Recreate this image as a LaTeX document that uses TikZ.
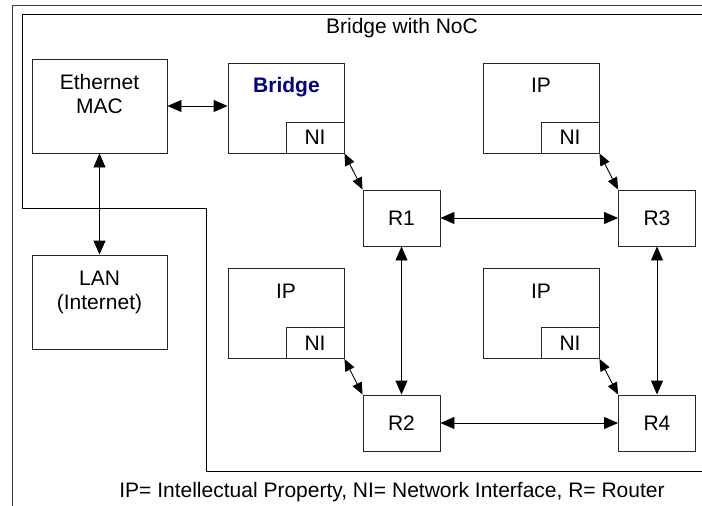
\documentclass[tikz,border=0pt]{standalone}
\usepackage{fontspec}
\setmainfont{Liberation Sans}
\usetikzlibrary{arrows.meta}
\definecolor{navy}{RGB}{0,0,128}
\begin{document}
\begin{tikzpicture}[x=1pt,y=-1pt,
  font=\fontsize{21}{24}\selectfont,
  box/.style={draw=black!85,line width=0.9pt,rectangle,inner sep=0pt,anchor=center},
  bigbox/.style={box,minimum width=135pt,minimum height=94pt},
  ipbox/.style={box,minimum width=116pt,minimum height=90pt},
  nibox/.style={box,minimum width=58pt,minimum height=31pt},
  rbox/.style={box,minimum width=77pt,minimum height=56pt},
  txt/.style={inner sep=0pt,anchor=base},
  link/.style={draw=black,line width=0.9pt,{Triangle[length=14pt,width=12pt]}-{Triangle[length=14pt,width=12pt]}},
  slink/.style={draw=black,line width=0.9pt,{Triangle[length=12pt,width=10pt]}-{Triangle[length=12pt,width=10pt]}},
  frame/.style={line width=1pt}
]
\useasboundingbox (0,0) rectangle (702,506);
\fill[white] (0,0) rectangle (702,506);

% frames
\draw[frame,draw=black!75] (12,506) -- (12,5) -- (702,5);
\draw[frame,draw=black] (702,14) -- (22,14) -- (22,208) -- (206,208) -- (206,471) -- (702,471);
\node[txt] (title) at (402,33) {Bridge with NoC};

% left boxes
\node[bigbox] (mac) at (99.5,106) {};
\node[txt] (mact1) at (99.5,89) {Ethernet};
\node[txt] (mact2) at (99.5,113) {MAC};
\node[bigbox] (lan) at (99.5,302) {};
\node[txt] (lant1) at (99.5,285) {LAN};
\node[txt] (lant2) at (99.5,309) {(Internet)};

% bridge and IPs
\node[ipbox] (bridge) at (286,108) {};
\node[txt,text=navy,font=\fontsize{21}{24}\selectfont\bfseries] (bridget) at (286.5,92) {Bridge};
\node[nibox] (ni0) at (315,137.5) {NI};

\node[ipbox] (ip1) at (541,108) {};
\node[txt] (ip1t) at (541,92) {IP};
\node[nibox] (ni1) at (570,137.5) {NI};

\node[ipbox] (ip2) at (286,313) {};
\node[txt] (ip2t) at (286,298) {IP};
\node[nibox] (ni2) at (315,343) {NI};

\node[ipbox] (ip3) at (541,313) {};
\node[txt] (ip3t) at (541,298) {IP};
\node[nibox] (ni3) at (570,343) {NI};

% routers
\node[rbox] (r1) at (401.5,218) {R1};
\node[rbox] (r3) at (657,218) {R3};
\node[rbox] (r2) at (401.5,423) {R2};
\node[rbox] (r4) at (657,423) {R4};

% connectors
\draw[link] (mac.east) -- (mac.east -| bridge.west);
\draw[link] (mac.south) -- (lan.north);
\draw[link] (r1.east) -- (r3.west);
\draw[link] (r2.east) -- (r4.west);
\draw[link] (r1.south) -- (r2.north);
\draw[link] (r3.south) -- (r4.north);
\draw[slink] (ni0.south east) -- (r1.north west);
\draw[slink] (ni1.south east) -- (r3.north west);
\draw[slink] (ni2.south east) -- (r2.north west);
\draw[slink] (ni3.south east) -- (r4.north west);

% legend
\node[txt] (legend) at (392,497) {IP= Intellectual Property, NI= Network Interface, R= Router};
\end{tikzpicture}
\end{document}
